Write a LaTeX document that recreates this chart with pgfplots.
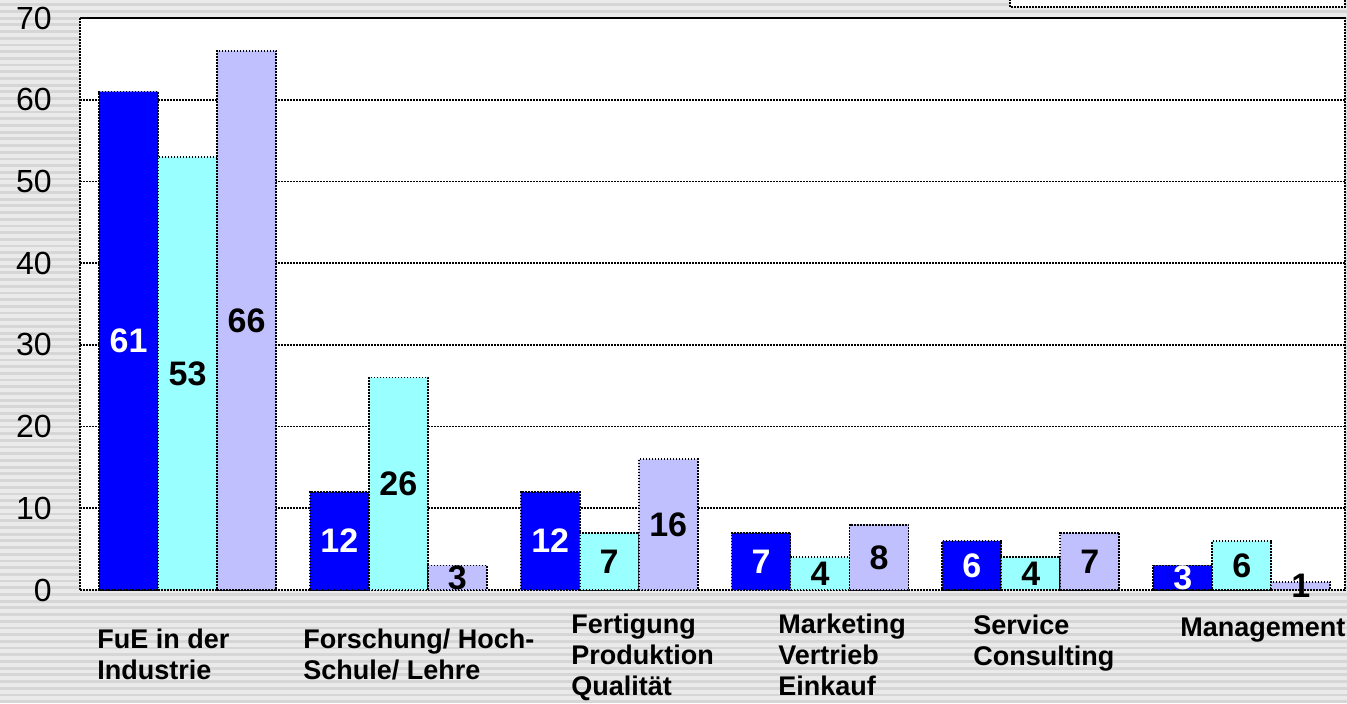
\documentclass[border=0pt]{standalone}
\usepackage{pgfplots}
\pgfplotsset{compat=1.18}
\usepackage{fontspec}
\setmainfont{Liberation Sans}
\definecolor{bDark}{RGB}{0,0,255}
\definecolor{bCyan}{RGB}{153,255,255}
\definecolor{bLav}{RGB}{192,192,255}
\definecolor{bgA}{RGB}{234,234,234}
\definecolor{bgB}{RGB}{214,214,214}
\begin{document}
\begin{tikzpicture}
\useasboundingbox (-40pt,-56.5pt) rectangle (633.5pt,295pt);
\clip (-40pt,-56.5pt) rectangle (633.5pt,295pt);
\fill[bgA] (-40pt,-56.5pt) rectangle (633.5pt,295pt);
\foreach \i in {0,...,105} \fill[bgB] (-40pt,{-56.5pt+\i*3.35pt}) rectangle ++(673.5pt,1.4pt);
\fill[white] (465pt,291.5pt) rectangle (632.5pt,300pt);
\draw[black, dash pattern=on 0.8pt off 0.7pt, line width=0.9pt] (465pt,300pt) -- (465pt,291.5pt) -- (632.5pt,291.5pt) -- (632.5pt,300pt);
\begin{axis}[
 x=105.4167pt, y=4.085714pt,
 xmin=-0.51, xmax=5.49, ymin=0, ymax=70,
 ybar=0pt, bar width=29.5pt,
 axis background/.style={fill=white},
 axis line style={black, dash pattern=on 0.8pt off 0.7pt, line width=0.9pt},
 ymajorgrids, major grid style={black, dash pattern=on 0.8pt off 0.7pt, line width=0.8pt},
 ytick={0,10,...,70},
 xtick=\empty,
 major tick length=0pt,
 yticklabel style={font=\fontsize{16}{19}\selectfont, inner sep=0pt, xshift=-14pt},
 /pgf/number format/assume math mode=true,
 nodes near coords,
 visualization depends on=rawy\as\rawy,
 every node near coord/.append style={anchor=center, yshift={-\rawy*2.042857pt}, font=\fontsize{17}{20}\selectfont\bfseries, solid},
]
\addplot[fill=bDark, draw=black, dash pattern=on 0.8pt off 0.7pt, line width=0.9pt, every node near coord/.append style={text=white}] coordinates {(0,61) (1,12) (2,12) (3,7) (4,6) (5,3)};
\addplot[fill=bCyan, draw=black, dash pattern=on 0.8pt off 0.7pt, line width=0.9pt, every node near coord/.append style={text=black}] coordinates {(0,53) (1,26) (2,7) (3,4) (4,4) (5,6)};
\addplot[fill=bLav, draw=black, dash pattern=on 0.8pt off 0.7pt, line width=0.9pt, every node near coord/.append style={text=black}] coordinates {(0,66) (1,3) (2,16) (3,8) (4,7) (5,1)};
\end{axis}
\tikzset{catlab/.style={anchor=base west, align=left, inner sep=0pt, font=\fontsize{13.5}{15.3}\selectfont\bfseries}}
\node[catlab] at (8.5pt,-44.5pt) {FuE in der\\Industrie};
\node[catlab] at (111.5pt,-44.5pt) {Forschung/ Hoch-\\Schule/ Lehre};
\node[catlab] at (245.5pt,-52.5pt) {Fertigung\\Produktion\\Qualität};
\node[catlab] at (349pt,-52.5pt) {Marketing\\Vertrieb\\Einkauf};
\node[catlab] at (446.5pt,-37.5pt) {Service\\Consulting};
\node[catlab] at (550pt,-23pt) {Management};
\end{tikzpicture}
\end{document}
